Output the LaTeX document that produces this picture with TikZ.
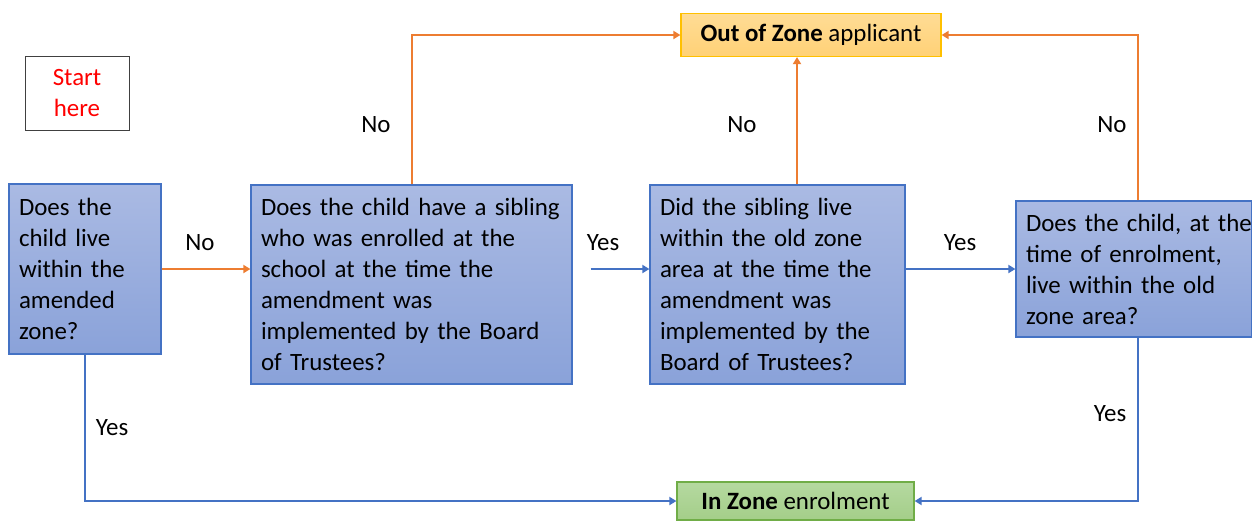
\documentclass[tikz,border=0pt]{standalone}
\usepackage{fontspec}
\setmainfont{Carlito}
\usetikzlibrary{arrows.meta}
\definecolor{qline}{HTML}{4472C4}
\definecolor{qtop}{HTML}{AABAE3}
\definecolor{qbot}{HTML}{8AA2D9}
\definecolor{noline}{HTML}{ED7D31}
\definecolor{outtop}{HTML}{FFDC95}
\definecolor{outbot}{HTML}{FFD176}
\definecolor{outline}{HTML}{FFC000}
\definecolor{intop}{HTML}{B5D9A0}
\definecolor{inbot}{HTML}{A4CE89}
\definecolor{inline}{HTML}{70AD47}
\tikzset{
  question/.style={draw=qline, line width=0.6pt, top color=qtop, bottom color=qbot,
    align=left, inner xsep=5pt, inner ysep=0pt,
    execute at begin node={\rightskip=0pt plus 1fil minus 60pt}},
  result/.style={line width=0.6pt, inner sep=0pt},
  link/.style={line width=1pt, -{Triangle[length=3.5pt,width=4pt]}}
}
\begin{document}
\begin{tikzpicture}[x=0.5pt,y=-0.5pt,font=\fontsize{12.45}{15.5}\selectfont]
  \useasboundingbox (0,0) rectangle (1252,521);
  \node at (77,93) (start) [draw=black!75, line width=0.5pt, minimum width=52pt, minimum height=37pt, align=center, text=red] {Start\\here};
  \node at (85,269) (q1) [question, text width=66pt, minimum height=85pt] {Does the\\child live\\within the\\amended\\zone?};
  \node at (411.5,284.5) (q2) [question, text width=150.5pt, minimum height=99.5pt] {Does the child have a sibling\\who was enrolled at the\\school at the time the\\amendment was\\implemented by the Board\\of Trustees?};
  \node at (777.5,284.5) (q3) [question, text width=117.5pt, minimum height=99.5pt] {Did the sibling live\\within the old zone\\area at the time the\\amendment was\\implemented by the\\Board of Trustees?};
  \node at (1134,269) (q4) [question, text width=108pt, minimum height=68pt] {Does the child, at the\\time of enrolment,\\live within the old\\zone area?};
  \node at (811,35) (out) [result, draw=outline, top color=outtop, bottom color=outbot, minimum width=130pt, minimum height=21.5pt] {\textbf{Out of Zone} applicant};
  \node at (795.5,501) (in) [result, draw=inline, top color=intop, bottom color=inbot, minimum width=118.5pt, minimum height=19pt] {\textbf{In Zone} enrolment};
  % answers
  \foreach \t/\x/\y in {No/200/243,No/376/125,Yes/603/243,No/742/125,Yes/960/243,No/1112/125,Yes/1110/414,Yes/112/428}
    \node at (\x,\y) {\t};
  % no
  \draw[link, noline] (q1.east) -- (q1.east -| q2.west);
  \draw[link, noline] (q2.north) |- (out.west);
  \draw[link, noline] ([xshift=9.75pt]q3.north) -- ([xshift=9.75pt]q3.north |- out.south);
  \draw[link, noline] ([xshift=2pt]q4.north) |- (out.east);
  % yes
  \draw[link, qline, shorten <=9pt] (q1.east -| q2.east) -- (q1.east -| q3.west);
  \draw[link, qline] (q4.west -| q3.east) -- (q4.west);
  \draw[link, qline] ([xshift=2pt]q4.south) |- (in.east);
  \draw[link, qline] (q1.south) |- (in.west);
\end{tikzpicture}
\end{document}
